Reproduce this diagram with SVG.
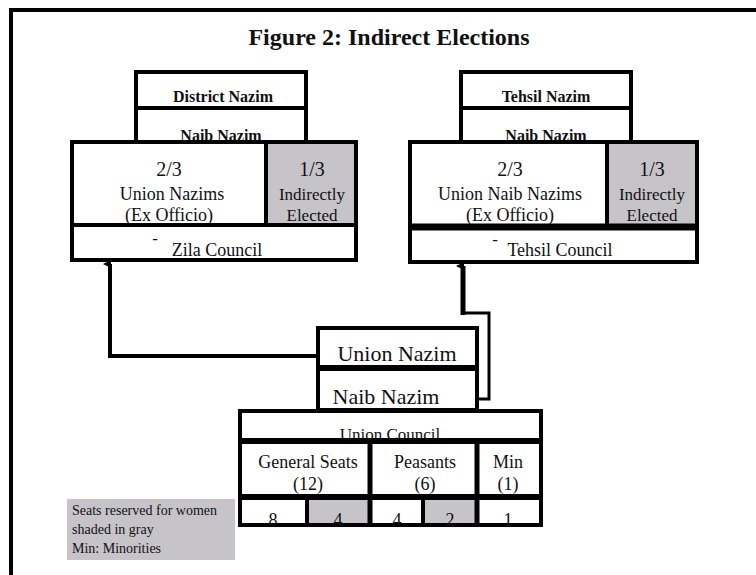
<svg xmlns="http://www.w3.org/2000/svg" width="756" height="575" viewBox="0 0 756 575">
<style>
text{font-family:"Liberation Serif","Times New Roman",serif;fill:#111;text-anchor:middle}
.b{font-weight:bold;font-size:16px}
.box{fill:#fff;stroke:#000;stroke-width:4}
.ln{stroke:#000;stroke-width:4;fill:none}
.gray{fill:#c6c4c9}
.m{font-size:18px}
.n{font-size:17px}
.big{font-size:20px}
.lg{font-size:14px;text-anchor:start}
</style>
<defs>
<marker id="ah" markerWidth="8" markerHeight="8" refX="4" refY="7" orient="auto" markerUnits="userSpaceOnUse">
<path d="M0,8 L4,0 L8,8 Z" fill="#000"/>
</marker>
</defs>
<rect width="756" height="575" fill="#fff"/>
<g id="frame">
<line x1="9" y1="10" x2="756" y2="10" class="ln"/>
<line x1="11" y1="8" x2="11" y2="575" class="ln"/>
</g>
<text x="389" y="45" style="font-weight:bold;font-size:24px">Figure 2: Indirect Elections</text>

<g id="district-nazim">
<rect x="136" y="72" width="170" height="70" class="box"/>
<line x1="136" y1="108" x2="306" y2="108" class="ln"/>
<text x="223" y="102" class="b">District Nazim</text>
<text x="221" y="141" class="b">Naib Nazim</text>
</g>
<g id="zila-council">
<rect x="72" y="142" width="284" height="118" class="box"/>
<rect x="266" y="142" width="90" height="83" class="gray"/>
<rect x="72" y="142" width="284" height="118" class="ln"/>
<line x1="266" y1="142" x2="266" y2="225" class="ln"/>
<line x1="72" y1="225" x2="356" y2="225" class="ln"/>
<text x="169" y="176" class="big">2/3</text>
<text x="172" y="200" class="m">Union Nazims</text>
<text x="169" y="221" class="m">(Ex Officio)</text>
<text x="312" y="176" class="big">1/3</text>
<text x="312" y="200" class="n">Indirectly</text>
<text x="312" y="221" class="n">Elected</text>
<text x="155" y="244" class="n">-</text>
<text x="217" y="256" class="m">Zila Council</text>
</g>

<g id="tehsil-nazim">
<rect x="461" y="72" width="170" height="70" class="box"/>
<line x1="461" y1="108" x2="631" y2="108" class="ln"/>
<text x="546" y="102" class="b">Tehsil Nazim</text>
<text x="546" y="141" class="b">Naib Nazim</text>
</g>
<g id="tehsil-council">
<rect x="410" y="142" width="287" height="120" class="box"/>
<rect x="607" y="142" width="90" height="83" class="gray"/>
<rect x="410" y="142" width="287" height="120" class="ln"/>
<line x1="607" y1="142" x2="607" y2="225" class="ln"/>
<line x1="410" y1="227" x2="697" y2="227" stroke="#000" stroke-width="7"/>
<text x="510" y="176" class="big">2/3</text>
<text x="510" y="200" class="m">Union Naib Nazims</text>
<text x="510" y="221" class="m">(Ex Officio)</text>
<text x="652" y="176" class="big">1/3</text>
<text x="652" y="200" class="n">Indirectly</text>
<text x="652" y="221" class="n">Elected</text>
<text x="495" y="245" class="n">-</text>
<text x="560" y="256" class="m">Tehsil Council</text>
</g>

<g id="connectors">
<path d="M318,356 H110 V264" class="ln" marker-end="url(#ah)"/>
<path d="M477,399 H489 V313 H463" stroke="#000" stroke-width="3" fill="none"/>
<path d="M463,315 V266" stroke="#000" stroke-width="5" fill="none" marker-end="url(#ah)"/>
</g>

<g id="union-nazim">
<rect x="318" y="328" width="159" height="82" class="box"/>
<line x1="318" y1="368" x2="477" y2="368" stroke="#000" stroke-width="6"/>
<text x="397" y="361" style="font-size:22px">Union Nazim</text>
<text x="386" y="404" style="font-size:22px">Naib Nazim</text>
</g>

<g id="union-council">
<rect x="240" y="411" width="301" height="114" class="box"/>
<rect x="307" y="497" width="63" height="28" class="gray"/>
<rect x="423" y="497" width="54" height="28" class="gray"/>
<rect x="240" y="411" width="301" height="114" class="ln"/>
<line x1="240" y1="441" x2="541" y2="441" stroke="#000" stroke-width="6"/>
<line x1="240" y1="497" x2="541" y2="497" stroke="#000" stroke-width="6"/>
<line x1="370" y1="441" x2="370" y2="525" stroke="#000" stroke-width="5"/>
<line x1="477" y1="441" x2="477" y2="525" stroke="#000" stroke-width="5"/>
<line x1="307" y1="497" x2="307" y2="525" class="ln"/>
<line x1="423" y1="497" x2="423" y2="525" class="ln"/>
<text x="390" y="440" class="n">Union Council</text>
<text x="308" y="468" class="m">General Seats</text>
<text x="308" y="490" class="m">(12)</text>
<text x="425" y="468" class="m">Peasants</text>
<text x="425" y="490" class="m">(6)</text>
<text x="508" y="468" class="m">Min</text>
<text x="508" y="490" class="m">(1)</text>
<text x="273" y="526" class="m">8</text>
<text x="338" y="526" class="m">4</text>
<text x="397" y="526" class="m">4</text>
<text x="450" y="526" class="m">2</text>
<text x="508" y="526" class="m">1</text>
</g>

<g id="legend">
<rect x="67" y="499" width="168" height="61" class="gray"/>
<text x="72" y="515" class="lg">Seats reserved for women</text>
<text x="72" y="534" class="lg">shaded in gray</text>
<text x="72" y="553" class="lg">Min: Minorities</text>
</g>
</svg>
